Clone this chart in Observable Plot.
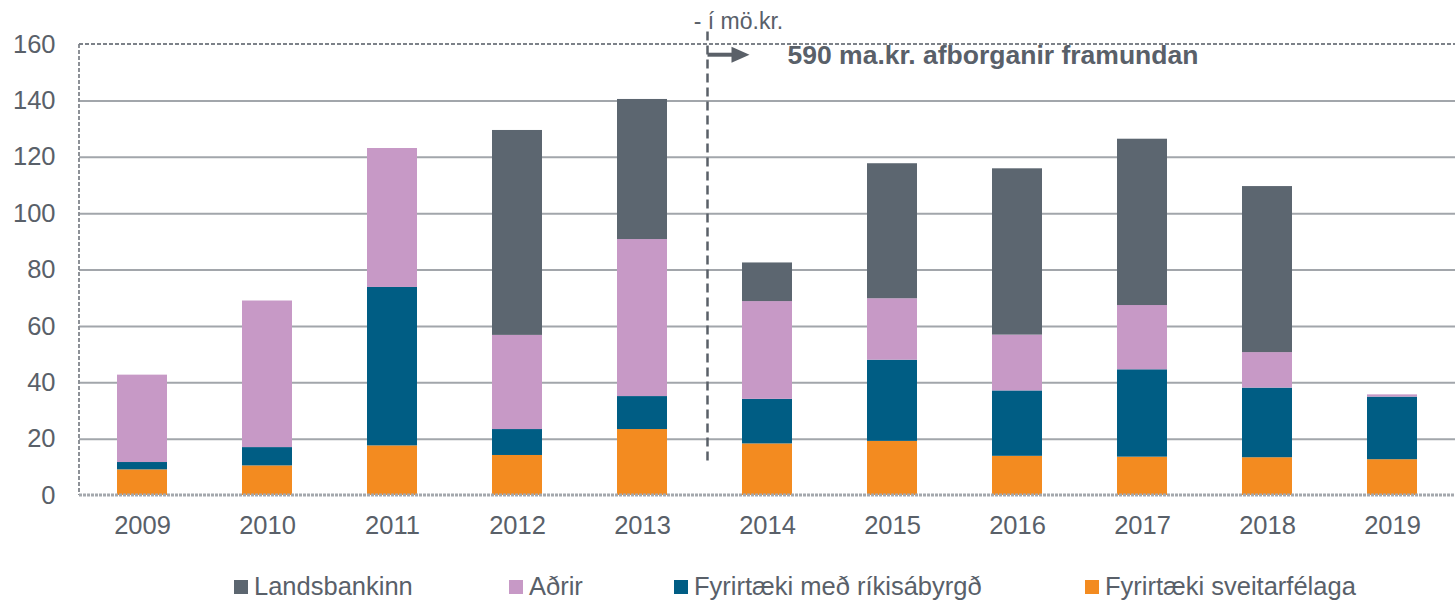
<!DOCTYPE html>
<html>
<head>
<meta charset="utf-8">
<script src="https://cdn.jsdelivr.net/npm/d3@7"></script>
<script src="https://cdn.jsdelivr.net/npm/@observablehq/plot@0.6"></script>
<style>
  body { margin: 0; background: #fff; font-family: Arial, "Liberation Sans", sans-serif; }
  #wrap { position: relative; width: 1455px; height: 600px; overflow: hidden; }
  #legend { position: absolute; left: 0; top: 571px; width: 1455px; height: 30px; font-size: 25.5px; color: #596069; }
  .item { position: absolute; top: 0; display: flex; align-items: center; white-space: nowrap; height: 30px; }
  .sw { width: 14px; height: 14px; margin-right: 6px; margin-top: 1px; }
</style>
</head>
<body>
<div id="wrap"><div id="chart"></div><div id="legend"></div></div>
<script>
// ---- data ----
const years = ["2009","2010","2011","2012","2013","2014","2015","2016","2017","2018","2019"];
const sveitarfelaga = [9.1, 10.5, 17.6, 14.2, 23.4, 18.3, 19.2, 13.9, 13.6, 13.4, 12.7];
const rikisabyrgd   = [2.6, 6.5, 56.2, 9.2, 11.7, 15.8, 28.8, 23.2, 31.0, 24.7, 22.2];
const adrir         = [31.0, 52.0, 49.3, 33.4, 55.7, 34.7, 21.8, 19.8, 22.8, 12.6, 0.8];
const landsbankinn  = [0, 0, 0, 72.7, 49.7, 13.7, 47.9, 59.0, 59.0, 58.9, 0];
const stackNames = ["Fyrirtæki sveitarfélaga", "Fyrirtæki með ríkisábyrgð", "Aðrir", "Landsbankinn"];
const stackValues = [sveitarfelaga, rikisabyrgd, adrir, landsbankinn];
const stackColors = ["#f38b20", "#005d84", "#c799c6", "#5c6670"];
const legendNames = ["Landsbankinn", "Aðrir", "Fyrirtæki með ríkisábyrgð", "Fyrirtæki sveitarfélaga"];
const yTicks = [0, 20, 40, 60, 80, 100, 120, 140, 160];
const subtitle = "- í mö.kr.";
const note = "590 ma.kr. afborganir framundan";

const data = [];
stackNames.forEach((s, i) => years.forEach((yr, j) => data.push({year: yr, series: s, value: stackValues[i][j]})));

const textColor = "#596069";

function frameLines(index, scales, values, dims) {
  const g = d3.create("svg:g");
  const l = dims.marginLeft, t = dims.marginTop, b = dims.height - dims.marginBottom, r = dims.width - dims.marginRight;
  g.append("line").attr("x1", l).attr("x2", l).attr("y1", t).attr("y2", b)
    .attr("stroke", "#8d9197").attr("stroke-width", 2).attr("stroke-dasharray", "4,2");
  g.append("line").attr("x1", l).attr("x2", r).attr("y1", t).attr("y2", t)
    .attr("stroke", "#7d8289").attr("stroke-width", 2).attr("stroke-dasharray", "4,2");
  g.append("line").attr("x1", l).attr("x2", r).attr("y1", b).attr("y2", b)
    .attr("stroke", "#a4a8ad").attr("stroke-width", 3).attr("stroke-dasharray", "3,1");
  return g.node();
}

function divider(index, scales) {
  const g = d3.create("svg:g");
  const step = scales.x("2014") - scales.x("2013");
  const xm = scales.x("2014") - step * 0.3 + 3;
  g.append("line").attr("x1", xm).attr("x2", xm).attr("y1", scales.y(164.4)).attr("y2", scales.y(10.6))
    .attr("stroke", "#5a6068").attr("stroke-width", 2.5).attr("stroke-dasharray", "9,5");
  const ya = scales.y(156.2);
  g.append("line").attr("x1", xm).attr("x2", xm + 26).attr("y1", ya).attr("y2", ya)
    .attr("stroke", "#5a6068").attr("stroke-width", 4);
  g.append("path").attr("d", `M${xm + 24},${ya - 8}L${xm + 42},${ya}L${xm + 24},${ya + 8}Z`).attr("fill", "#5a6068");
  return g.node();
}

const chart = Plot.plot({
  width: 1455,
  height: 545,
  marginLeft: 79,
  marginRight: 0,
  marginTop: 44,
  marginBottom: 50,
  style: {fontFamily: "Arial, 'Liberation Sans', sans-serif", fontSize: "25px", color: textColor, background: "white", overflow: "visible"},
  x: {type: "band", domain: years, paddingInner: 0.6, paddingOuter: 0.3, label: null},
  y: {domain: [0, 160], label: null},
  color: {domain: stackNames, range: stackColors},
  marks: [
    Plot.ruleY(yTicks.filter(t => t > 0 && t < 160), {stroke: "#a2a6ab", strokeWidth: 2}),
    Plot.barY(data, {x: "year", y: "value", fill: "series"}),
    frameLines,
    Plot.axisY({ticks: yTicks, tickSize: 0, tickPadding: 24, fontSize: 25.5, fill: textColor, label: null}),
    Plot.axisX({tickSize: 0, tickPadding: 20, fontSize: 25.5, fill: textColor, label: null}),
    divider,
    Plot.text([subtitle], {x: () => "2014", y: () => 160, text: d => d, dx: -29, dy: -23, fontSize: 23, fill: textColor}),
    Plot.text([note], {x: () => "2014", y: () => 156.1, text: d => d, dx: 20, textAnchor: "start", fontSize: 26.5, fontWeight: "bold", fill: textColor})
  ]
});
document.getElementById("chart").appendChild(chart);

// legend
const legendLeft = [234, 509, 674, 1085];
const leg = document.getElementById("legend");
legendNames.forEach((name, i) => {
  const item = document.createElement("div");
  item.className = "item";
  item.style.left = legendLeft[i] + "px";
  const sw = document.createElement("span");
  sw.className = "sw";
  sw.style.background = stackColors[stackNames.indexOf(name)];
  const tx = document.createElement("span");
  tx.textContent = name;
  item.appendChild(sw); item.appendChild(tx);
  leg.appendChild(item);
});
</script>
</body>
</html>
